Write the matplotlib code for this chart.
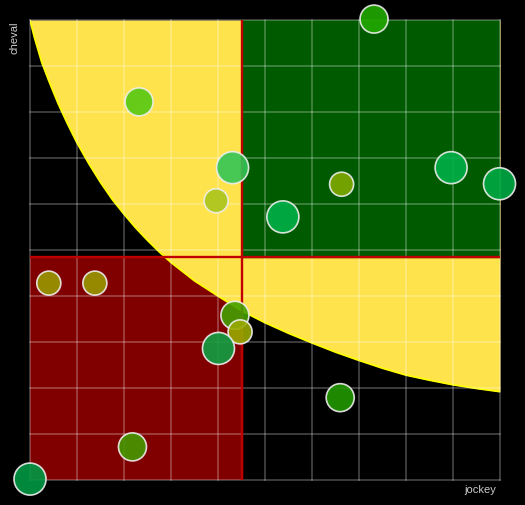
import numpy as np
import matplotlib.pyplot as plt

# Bulles : position (jockey, cheval), taille, couleur
jockey = [7.32, 2.32, 4.31, 3.96, 5.38, 6.63, 8.96, 9.99,
          0.40, 1.38, 4.36, 4.47, 4.01, 6.60, 2.18, 0.00]
cheval = [10.02, 8.22, 6.79, 6.07, 5.72, 6.43, 6.79, 6.44,
          4.28, 4.28, 3.58, 3.22, 2.86, 1.79, 0.72, 0.02]
poids = [14, 14, 16, 12, 16, 12, 16, 16,
         12, 12, 14, 12, 16, 14, 14, 16]
couleurs = ['#22aa00', '#55c814', '#33c455', '#aac41a', '#00b048', '#80aa00',
            '#00b048', '#00aa44', '#999900', '#999900', '#44a000', '#99aa00',
            '#11a044', '#229900', '#449900', '#009944']

# Frontière de la zone jaune
courbe_x = [0.0, 0.1, 0.25, 0.4, 0.6, 0.8, 1.0, 1.25, 1.5, 1.75, 2.0,
            2.25, 2.5, 2.75, 3.0, 3.5, 4.0, 4.5, 5.0, 5.5, 6.0, 6.5,
            7.0, 7.5, 8.0, 8.5, 9.0, 9.5, 10.0]
courbe_y = [10.0, 9.6, 9.08, 8.68, 8.18, 7.74, 7.33, 6.88, 6.47, 6.1, 5.78,
            5.48, 5.21, 4.96, 4.73, 4.33, 4.0, 3.68, 3.42, 3.19, 2.98, 2.78,
            2.6, 2.43, 2.28, 2.17, 2.07, 1.99, 1.92]

# Séparations des quadrants
seuil_x = 4.51
seuil_y = 4.84

W, H = 525, 505
fig = plt.figure(figsize=(W / 100, H / 100), dpi=100, facecolor='black')
ax = fig.add_axes([30 / W, 25 / H, 470 / W, 460 / H], facecolor='black')
ax.set_xlim(0, 10)
ax.set_ylim(0, 10)
ax.set_xticks([])
ax.set_yticks([])
for s in ax.spines.values():
    s.set_visible(False)

# Zones
ax.add_patch(plt.Rectangle((0, 0), seuil_x, seuil_y, color='#800000', zorder=1))
ax.fill_between(courbe_x, courbe_y, 10, color='#ffe34d', lw=0, zorder=1.2)
ax.plot(courbe_x, courbe_y, color='#ffff00', lw=1.3, zorder=1.3)
ax.add_patch(plt.Rectangle((seuil_x, seuil_y), 10 - seuil_x, 10 - seuil_y,
                           color='#005a00', zorder=1.4))

# Grille
for v in range(11):
    ax.axvline(v, color='white', alpha=0.3, lw=1.1, zorder=2, clip_on=False)
    ax.axhline(v, color='white', alpha=0.3, lw=1.1, zorder=2, clip_on=False)

ax.axvline(seuil_x, color='#c00000', lw=1.7, zorder=3)
ax.axhline(seuil_y, color='#c00000', lw=1.7, zorder=3)

# Bulles
tailles = [(2 * r * 0.72) ** 2 for r in poids]
ax.scatter(jockey, cheval, s=tailles, c=couleurs, alpha=0.9,
           edgecolors='#eeeeee', linewidths=1.2, zorder=4, clip_on=False)

fig.text(15 / W, 1 - 21 / H, 'cheval', rotation=90, ha='center', va='top',
         color='#cccccc', fontsize=8, family='Liberation Sans')
fig.text(496 / W, 1 - 490 / H, 'jockey', ha='right', va='center',
         color='#cccccc', fontsize=8, family='Liberation Sans')

fig.savefig('out.png', dpi=100, facecolor='black')
